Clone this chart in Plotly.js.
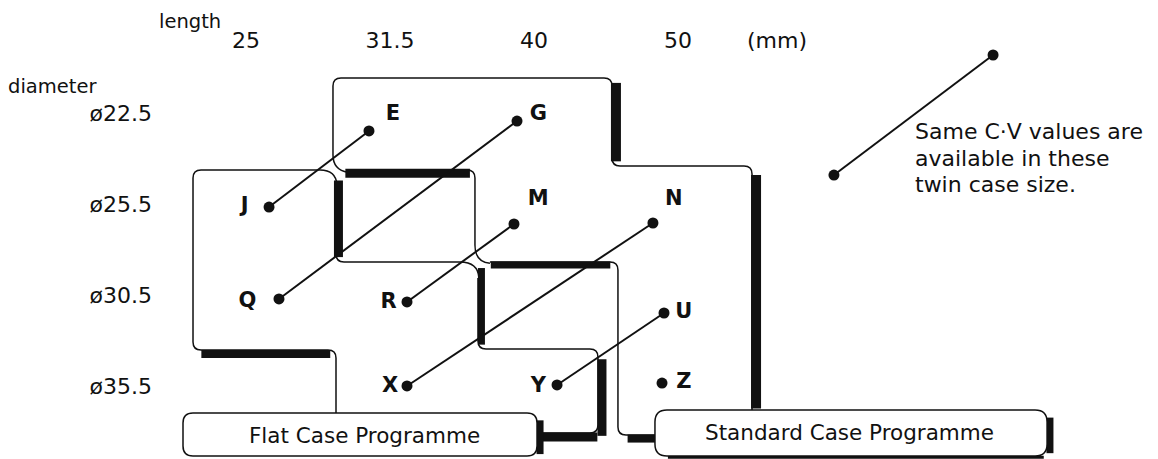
<!DOCTYPE html>
<html>
<head>
<meta charset="utf-8">
<script src="https://cdn.plot.ly/plotly-3.0.1.min.js"></script>
<style>
html,body{margin:0;padding:0;background:#fff;}
#chart{width:1158px;height:459px;}
</style>
</head>
<body>
<div id="chart"></div>
<script>
// ---------------- data ----------------
const lengths   = ['25', '31.5', '40', '50'];                 // case length (mm) -> columns
const diameters = ['ø22.5', 'ø25.5', 'ø30.5', 'ø35.5'];       // case diameter -> rows
const sizeCodes = ['E', 'G', 'J', 'M', 'N', 'Q', 'R', 'X', 'U', 'Y', 'Z'];
// code letter position (column index, row index)
const codeCol = [1.02, 2.03, -0.01, 2.03, 2.97, 0.01, 0.99, 1.00, 3.04, 2.03, 3.04];
const codeRow = [0.02, 0.02, 1.03, 0.95, 0.95, 2.07, 2.08, 3.00, 2.19, 3.00, 2.96];
// dot position (column index, row index)
const dotCol  = [0.854, 1.882, 0.160, 1.861, 2.826, 0.229, 1.118, 1.118, 2.903, 2.160, 2.889];
const dotRow  = [0.197, 0.088, 1.031, 1.217, 1.206, 2.039, 2.072, 2.993, 2.193, 2.982, 2.961];
// twin case sizes sharing the same C·V values
const twinA = ['E', 'G', 'M', 'N', 'U'];
const twinB = ['J', 'Q', 'R', 'X', 'Y'];
// explanatory sample
const sampleCol = [5.188, 4.083];
const sampleRow = [-0.636, 0.680];
const noteLines = ['Same C·V values are', 'available in these', 'twin case size.'];
const programmes = ['Flat Case Programme', 'Standard Case Programme'];

// ---------------- geometry helpers ----------------
const W = 1158, H = 459;
const xRange = [-1.70833, 6.33333];
const yRange = [3.79386, -1.23904];
const kx = W / (xRange[1] - xRange[0]);
const ky = H / (yRange[0] - yRange[1]);
const FONT = 'DejaVu Sans, Liberation Sans, Arial, sans-serif';
const INK = '#111';

function fmt(q){ return (q[0]/kx).toFixed(4) + ',' + (q[1]/ky).toFixed(4); }
function roundedPath(pts, r, closed){
  const P = pts.map(p => [p[0]*kx, p[1]*ky]);
  const n = P.length; let d = '';
  for (let i = 0; i < n; i++){
    const cur = P[i];
    if (!closed && (i === 0 || i === n-1)) { d += (i === 0 ? 'M' : 'L') + fmt(cur); continue; }
    const prev = P[(i-1+n)%n], next = P[(i+1)%n];
    const v1 = [prev[0]-cur[0], prev[1]-cur[1]], v2 = [next[0]-cur[0], next[1]-cur[1]];
    const l1 = Math.hypot(v1[0], v1[1]), l2 = Math.hypot(v2[0], v2[1]);
    const rr = Math.min(r, l1/2, l2/2);
    const a = [cur[0]+v1[0]/l1*rr, cur[1]+v1[1]/l1*rr];
    const b = [cur[0]+v2[0]/l2*rr, cur[1]+v2[1]/l2*rr];
    d += (d === '' ? 'M' : 'L') + fmt(a) + 'Q' + fmt(cur) + ' ' + fmt(b);
  }
  if (closed) d += 'Z';
  return d;
}
function curve(p0, c, p1){
  return 'M' + p0[0] + ',' + p0[1] + 'Q' + c[0] + ',' + c[1] + ' ' + p1[0] + ',' + p1[1];
}
const thin = {color: INK, width: 1.5};
function pathShape(d, fill){
  return {type:'path', xref:'x', yref:'y', path:d, line:thin,
          fillcolor: fill || 'rgba(0,0,0,0)', layer:'below'};
}
function band(x0, y0, x1, y1, w){
  return {type:'line', xref:'x', yref:'y', x0:x0, y0:y0, x1:x1, y1:y1,
          line:{color:INK, width:w}, layer:'below'};
}

// ---------------- frame (programme outlines) ----------------
const shapes = [
  // Standard case programme outer outline
  pathShape(roundedPath([[0.604,0.461],[0.604,-0.384],[2.542,-0.384],[2.542,0.581],[3.514,0.581],[3.514,3.257]], 8, false)),
  band(2.569,-0.330, 2.569,0.530, 10),
  band(3.542,0.680, 3.542,3.240, 10),
  // Flat case programme outer outline
  pathShape(roundedPath([[0.514,0.625],[-0.368,0.625],[-0.368,2.599],[0.625,2.599],[0.625,3.289]], 8, false)),
  band(-0.310,2.643, 0.585,2.643, 8),
  // junctions
  pathShape(curve([0.604,0.461],[0.604,0.625],[0.708,0.650])),
  pathShape(curve([0.514,0.625],[0.625,0.625],[0.632,0.790])),
  pathShape(curve([1.590,1.447],[1.590,1.634],[1.694,1.648])),
  pathShape(curve([1.486,1.634],[1.611,1.634],[1.618,1.809])),
  // first overlap window
  pathShape(roundedPath([[0.700,0.625],[1.590,0.625],[1.590,1.447]], 8, false)),
  pathShape(roundedPath([[0.625,1.400],[0.625,1.634],[1.486,1.634]], 8, false)),
  band(0.690,0.660, 1.555,0.660, 9),
  band(0.642,0.740, 0.642,1.580, 9),
  // second overlap window + standard lower-left edge
  pathShape(roundedPath([[1.694,1.634],[2.583,1.634],[2.583,3.531],[2.840,3.531]], 8, false)),
  band(1.700,1.668, 2.530,1.668, 7),
  band(1.635,1.700, 1.635,2.540, 7),
  band(2.650,3.570, 2.845,3.570, 8),
  // flat lower-right cell
  pathShape(roundedPath([[1.611,1.809],[1.611,2.588],[2.444,2.588],[2.444,3.509],[2.021,3.509]], 8, false)),
  band(2.472,2.700, 2.472,3.540, 9),
  band(2.050,3.553, 2.440,3.553, 9),
  // programme name boxes
  band(2.042,3.370, 2.042,3.740, 7),
  band(5.583,3.340, 5.583,3.730, 7),
  band(2.930,3.775, 5.540,3.775, 3),
  pathShape(roundedPath([[-0.4375,3.289],[2.021,3.289],[2.021,3.761],[-0.4375,3.761]], 10, true), '#ffffff'),
  pathShape(roundedPath([[2.840,3.257],[5.563,3.257],[5.563,3.761],[2.840,3.761]], 12, true), '#ffffff')
];

// ---------------- traces ----------------
const idx = c => sizeCodes.indexOf(c);
const linkX = [], linkY = [];
twinA.forEach((a, i) => {
  const b = twinB[i];
  linkX.push(dotCol[idx(a)], dotCol[idx(b)], null);
  linkY.push(dotRow[idx(a)], dotRow[idx(b)], null);
});

const traces = [
  {type:'scatter', mode:'lines', x:linkX, y:linkY, line:{color:INK, width:2}, hoverinfo:'skip', cliponaxis:false},
  {type:'scatter', mode:'markers', x:dotCol, y:dotRow, marker:{color:INK, size:11}, hoverinfo:'skip', cliponaxis:false},
  {type:'scatter', mode:'lines+markers', x:sampleCol, y:sampleRow, line:{color:INK, width:2},
   marker:{color:INK, size:11}, hoverinfo:'skip', cliponaxis:false},
  {type:'scatter', mode:'text', x:codeCol, y:codeRow, text:sizeCodes, textposition:'middle center',
   textfont:{family:'DejaVu Sans, Arial, sans-serif', size:21, color:INK, weight:'bold'},
   hoverinfo:'skip', cliponaxis:false}
];

// ---------------- annotations ----------------
const annotations = [
  {text:'length', x:-0.389, y:-0.998, xref:'x', yref:'y', showarrow:false,
   font:{family:FONT, size:19.5, color:INK}},
  {text:'(mm)', x:3.688, y:-0.800, xref:'x', yref:'y', showarrow:false,
   font:{family:FONT, size:22, color:INK}},
  {text:'diameter', x:-1.347, y:-0.296, xref:'x', yref:'y', showarrow:false,
   font:{family:FONT, size:19.5, color:INK}},
  {text:programmes[0], x:0.826, y:3.531, xref:'x', yref:'y', showarrow:false,
   font:{family:FONT, size:21.5, color:INK}},
  {text:programmes[1], x:4.194, y:3.498, xref:'x', yref:'y', showarrow:false,
   font:{family:FONT, size:21.5, color:INK}}
];
noteLines.forEach((t, i) => {
  annotations.push({text:t, x:4.632, y:0.208 + i*0.288, xref:'x', yref:'y', xanchor:'left',
    showarrow:false, font:{family:FONT, size:22, color:INK}});
});

const layout = {
  width:W, height:H,
  margin:{l:0, r:0, t:0, b:0, pad:0},
  paper_bgcolor:'#fff', plot_bgcolor:'#fff',
  showlegend:false,
  xaxis:{range:xRange, autorange:false, side:'top', anchor:'free', position:1 - 52/H,
         tickvals:[0,1,2,3], ticktext:lengths, ticks:'', showline:false, showgrid:false,
         zeroline:false, automargin:false, fixedrange:true,
         tickfont:{family:FONT, size:22, color:INK}},
  yaxis:{range:yRange, autorange:false, side:'left', anchor:'free', position:152/W,
         tickvals:[0,1,2,3], ticktext:diameters, ticks:'', showline:false, showgrid:false,
         zeroline:false, automargin:false, fixedrange:true,
         tickfont:{family:FONT, size:22, color:INK}},
  shapes:shapes,
  annotations:annotations
};

Plotly.newPlot('chart', traces, layout, {staticPlot:true, displayModeBar:false});
</script>
</body>
</html>
